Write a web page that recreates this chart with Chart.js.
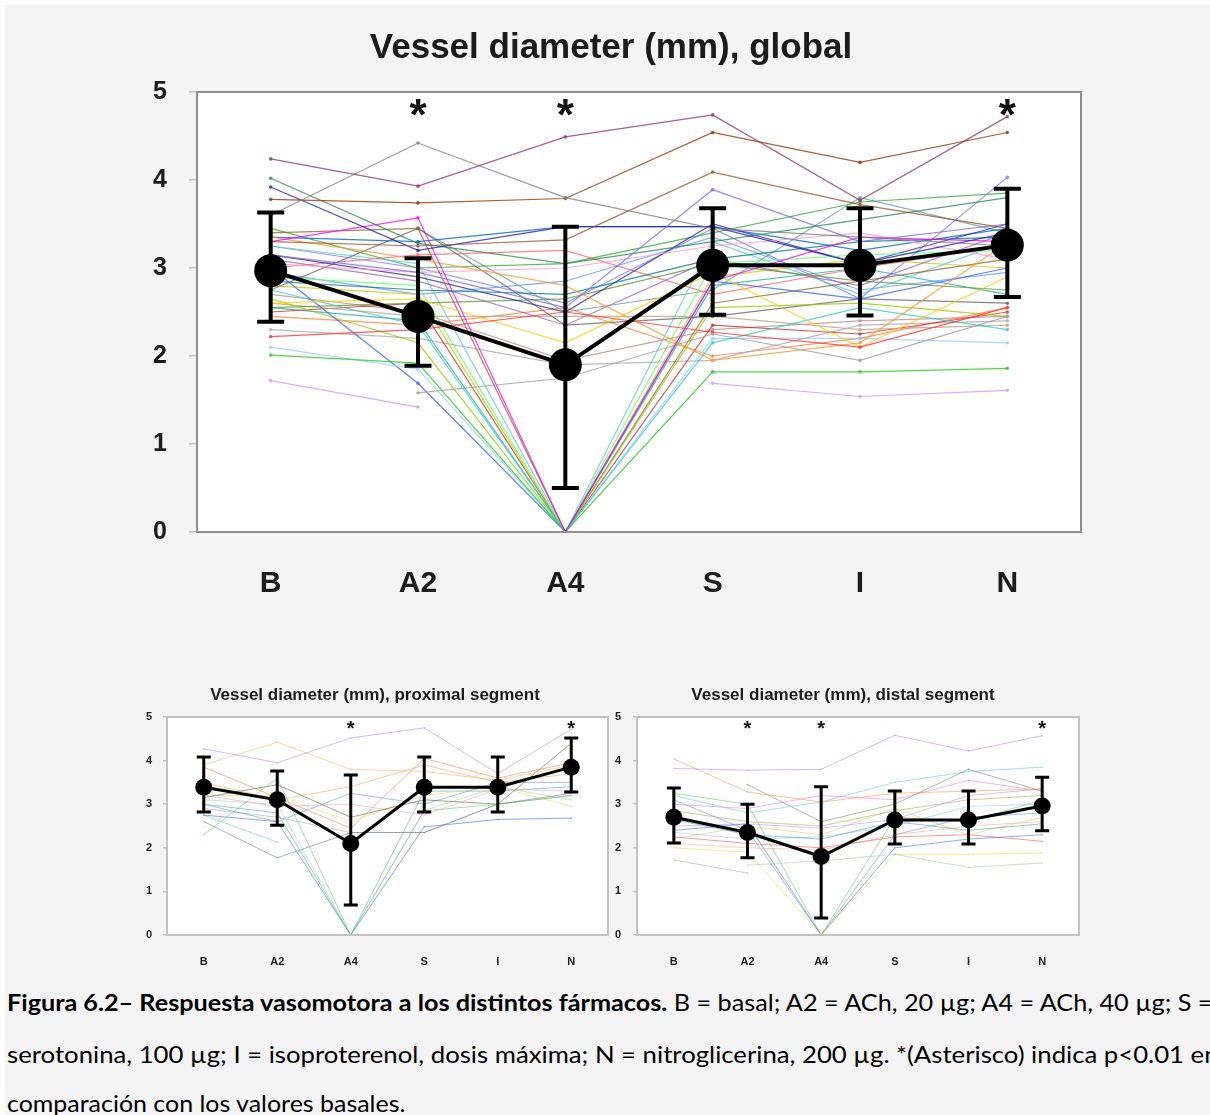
<!DOCTYPE html>
<html><head><meta charset="utf-8">
<script src="https://cdn.jsdelivr.net/npm/chart.js@4.4.0/dist/chart.umd.min.js"></script>
<style>
html,body{margin:0;padding:0;background:#fff;width:1210px;height:1115px;overflow:hidden;position:relative;}
#bg{position:absolute;left:5px;top:5px;width:1205px;height:1110px;background:#f4f4f4;}
canvas{position:absolute;}
.cap{position:absolute;left:7px;white-space:nowrap;font-family:'Lato','Open Sans',sans-serif;font-size:23px;line-height:23px;color:#000;transform-origin:0 0;}
.cap b{font-weight:700;}
</style></head>
<body>
<div id="bg"></div>
<canvas id="cMain" width="1210" height="620" style="left:0;top:0;width:1210px;height:620px"></canvas>
<canvas id="cProx" width="660" height="320" style="left:0;top:660px;width:660px;height:320px"></canvas>
<canvas id="cDist" width="1150" height="320" style="left:0;top:660px;width:1150px;height:320px"></canvas>
<div class="cap" id="cap1" style="top:991px"><b>Figura 6.2– Respuesta vasomotora a los distintos fármacos.</b> B = basal; A2 = ACh, 20 µg; A4 = ACh, 40 µg; S =</div>
<div class="cap" id="cap2" style="top:1043px">serotonina, 100 µg; I = isoproterenol, dosis máxima; N = nitroglicerina, 200 µg. *(Asterisco) indica p&lt;0.01 en</div>
<div class="cap" id="cap3" style="top:1092px">comparación con los valores basales.</div>
<script>
// ---------- DATA ----------
const categories = ['B', 'A2', 'A4', 'S', 'I', 'N'];

// Global
const globalTitle = 'Vessel diameter (mm), global';
const globalMean = [2.97, 2.45, 1.90, 3.03, 3.03, 3.26];
const globalErrLow = [2.39, 1.89, 0.50, 2.47, 2.46, 2.67];
const globalErrHigh = [3.63, 3.11, 3.47, 3.68, 3.68, 3.90];
const globalSig = ['', '*', '*', '', '', '*'];
const globalPatients = [
  [4.24, 3.93, 4.49, 4.74, 3.77, 4.72],
  [3.60, 4.42, 3.80, 3.45, 3.35, 3.25],
  [3.78, 3.74, 3.79, 4.54, 4.20, 4.54],
  [3.30, 3.25, 3.32, 4.09, 3.72, 3.45],
  [3.15, 2.95, 2.55, 3.89, 3.30, 3.50],
  [3.92, 3.20, 3.47, 3.47, 3.05, 3.40],
  [4.02, 3.28, 3.05, 3.30, 3.55, 3.80],
  [3.30, 3.57, 0.00, 2.85, 3.35, 3.30],
  [2.01, 1.92, 0.00, 1.82, 1.82, 1.86],
  [1.72, 1.42, null, 1.69, 1.54, 1.61],
  [null, 1.58, 1.75, 2.25, 1.95, 2.45],
  [2.22, 2.30, 2.50, 2.27, 2.10, 2.55],
  [3.35, 3.10, 2.80, 1.95, 2.15, 3.29],
  [2.60, 2.65, 2.15, 2.95, 2.10, 2.90],
  [2.75, 2.35, 0.00, 2.15, 2.55, 2.30],
  [2.10, 1.85, 0.00, 2.20, 2.20, 2.15],
  [3.00, 1.69, 0.00, 2.85, 2.65, 3.00],
  [2.65, 2.15, 0.00, 2.55, 2.60, 2.45],
  [3.40, 3.45, 0.00, 2.60, 2.85, 3.10],
  [2.85, 2.75, 2.70, 3.10, 3.30, 3.35],
  [2.90, 2.80, 0.00, 3.05, 3.15, 3.20],
  [3.05, 2.95, 3.00, 3.25, 3.40, 3.10],
  [3.15, 2.90, 2.50, 3.50, 3.05, 3.50],
  [2.75, 3.45, 2.35, 2.45, 2.65, 2.60],
  [2.55, 2.60, 2.65, 3.05, 2.85, 2.75],
  [2.60, 2.45, 2.45, 2.45, 2.30, 2.35],
  [3.00, 3.15, 3.20, 2.70, 3.00, 3.25],
  [3.10, 2.85, 2.35, 3.10, 2.80, 3.40],
  [3.25, 3.05, 0.00, 3.30, 2.70, 3.30],
  [2.80, 2.70, 0.00, 2.90, 3.10, 3.00],
  [2.50, 2.60, 0.00, 2.35, 2.25, 2.50],
  [2.95, 2.70, 2.85, 3.35, 2.75, 2.95],
  [2.30, 2.20, 1.90, 1.95, 2.35, 2.40],
  [3.35, 3.30, 3.47, 3.47, 3.20, 3.45],
  [3.45, 3.00, 3.05, 3.40, 3.75, 3.85],
  [2.45, 2.35, 2.55, 2.00, 2.20, 2.55],
  [null, 3.45, 2.50, 2.75, 3.80, 3.40],
  [3.25, 3.00, 2.60, 3.45, 2.65, 4.03],
  [2.70, 2.50, 1.95, 2.30, 2.40, 2.45],
  [2.55, 2.40, 0.00, 2.80, 3.00, 2.70]
];
const globalColors = ['#993366','#808080','#993300','#A0522D','#7B68EE','#1F1FBF','#2E8B57','#FF00FF',
  '#22CC22','#CC99FF','#A0A0A0','#FF3333','#FF9933','#FFCC00','#33CCCC','#99CCFF','#3366FF','#99CC00',
  '#996633','#008080','#66FF66','#FF99CC','#333399','#666666','#669933','#C0A080','#FF6666','#9966CC',
  '#66CCCC','#CCCC00','#CC3333','#6699FF','#AAAAAA','#0066CC','#33AA33','#FF8040','#5F9EA0','#7B7BFF',
  '#BC8F8F','#20B2AA'];

// Proximal segment
const proxTitle = 'Vessel diameter (mm), proximal segment';
const proxMean = [3.39, 3.10, 2.10, 3.39, 3.39, 3.85];
const proxErrLow = [2.82, 2.52, 0.69, 2.82, 2.82, 3.28];
const proxErrHigh = [4.08, 3.76, 3.67, 4.08, 4.08, 4.52];
const proxSig = ['', '', '*', '', '', '*'];
const proxPatients = [
  [4.27, 3.95, 4.52, 4.75, 3.70, 4.72],
  [3.90, 4.42, 3.80, 3.75, 3.55, 3.90],
  [3.85, 3.15, 2.45, 4.05, 3.60, 3.95],
  [2.60, 1.77, 2.35, 2.35, 3.00, 3.25],
  [2.30, 3.60, 0.00, 2.85, 3.00, 3.20],
  [2.75, 2.60, 0.00, 2.48, 2.65, 2.68],
  [2.75, 2.13, null, null, null, null],
  [3.15, 3.45, 2.70, 3.10, 3.00, 4.40],
  [3.20, 2.95, 3.00, 2.75, 3.35, 3.30],
  [3.10, 3.00, 0.00, 2.85, 3.40, 3.10],
  [3.00, 2.60, 3.25, 3.00, 3.50, 3.50],
  [3.20, 3.20, 2.60, 3.20, 3.40, 2.95],
  [3.00, 2.80, 0.00, 3.30, 3.30, 3.40],
  [2.90, 2.70, 2.35, 2.35, 3.00, 3.20],
  [3.50, 3.10, 3.40, 3.90, 3.50, 3.70]
];
const proxColors = ['#B48CF0','#FFB366','#FF7F50','#708090','#66CC66','#4169E1','#66CCCC','#556B2F',
  '#FF99CC','#99DD99','#6495ED','#E8D870','#40B0B0','#A9A9A9','#F4A460'];

// Distal segment
const distTitle = 'Vessel diameter (mm), distal segment';
const distMean = [2.70, 2.35, 1.80, 2.64, 2.64, 2.96];
const distErrLow = [2.11, 1.77, 0.39, 2.09, 2.09, 2.39];
const distErrHigh = [3.37, 3.00, 3.40, 3.30, 3.30, 3.62];
const distSig = ['', '*', '*', '', '', '*'];
const distPatients = [
  [3.82, 3.78, 3.80, 4.58, 4.22, 4.57],
  [4.04, 3.28, 3.05, 3.25, 3.30, 3.35],
  [null, 3.45, 2.60, 3.00, 3.80, 3.30],
  [1.72, 1.42, null, null, null, null],
  [null, 1.60, 1.70, 1.85, 1.55, 1.65],
  [2.00, 1.90, 0.00, 1.85, 1.85, 1.88],
  [3.25, 3.00, 0.00, 2.70, 2.60, 3.10],
  [3.20, 2.80, 3.05, 3.50, 3.75, 3.85],
  [3.00, 2.90, 3.20, 3.10, 3.55, 3.30],
  [2.40, 2.55, 0.00, 2.00, 2.20, 2.30],
  [2.25, 2.10, 2.00, 2.25, 2.30, 2.15],
  [2.10, 2.00, 1.95, 2.30, 2.50, 2.60],
  [2.65, 2.30, 2.20, 2.60, 2.40, 2.55],
  [3.10, 2.40, 0.00, 2.30, 2.70, 2.80],
  [2.35, 2.20, 2.25, 2.50, 2.95, 3.00],
  [2.85, 2.60, 2.50, 2.85, 3.10, 3.20],
  [2.50, 2.55, 2.45, 2.65, 3.20, 3.35],
  [2.20, 2.50, 2.30, 2.90, 2.30, 2.70]
];
const distColors = ['#B48CF0','#FF9944','#6B8E6B','#B0B0B0','#A8C8A8','#EEDD44','#66CC66','#66CCDD',
  '#FF77DD','#4477DD','#FF5555','#FFAA88','#44AAAA','#6699CC','#99CCEE','#AAAA55','#BB99EE','#DDCC66'];

// ---------- PLUGINS ----------
function hexA(hex, a) {
  const n = parseInt(hex.slice(1), 16);
  return 'rgba(' + ((n >> 16) & 255) + ',' + ((n >> 8) & 255) + ',' + (n & 255) + ',' + a + ')';
}
const framePlugin = {
  id: 'frame',
  beforeDraw(chart, args, o) {
    const a = chart.chartArea, ctx = chart.ctx;
    ctx.save(); ctx.fillStyle = '#fff';
    ctx.fillRect(a.left, a.top, a.right - a.left, a.bottom - a.top);
    ctx.restore();
  },
  afterDraw(chart, args, o) {
    const a = chart.chartArea, ctx = chart.ctx;
    ctx.save(); ctx.strokeStyle = o.color; ctx.lineWidth = o.width;
    ctx.strokeRect(a.left, a.top, a.right - a.left, a.bottom - a.top);
    ctx.restore();
  }
};
const errorBarPlugin = {
  id: 'errorBars',
  afterDatasetsDraw(chart, args, o) {
    const {ctx, scales: {x, y}} = chart;
    ctx.save(); ctx.strokeStyle = '#000'; ctx.lineWidth = o.lineWidth;
    o.low.forEach((lo, i) => {
      const hi = o.high[i];
      const px = x.getPixelForValue(i), yl = y.getPixelForValue(lo), yh = y.getPixelForValue(hi);
      ctx.beginPath();
      ctx.moveTo(px, yl); ctx.lineTo(px, yh);
      ctx.moveTo(px - o.cap / 2, yl); ctx.lineTo(px + o.cap / 2, yl);
      ctx.moveTo(px - o.cap / 2, yh); ctx.lineTo(px + o.cap / 2, yh);
      ctx.stroke();
    });
    ctx.restore();
  }
};
const starPlugin = {
  id: 'stars',
  afterDatasetsDraw(chart, args, o) {
    const {ctx, scales: {x, y}} = chart;
    ctx.save(); ctx.fillStyle = '#111'; ctx.font = o.font;
    ctx.textAlign = 'center'; ctx.textBaseline = 'middle';
    o.flags.forEach((f, i) => {
      if (f) ctx.fillText(f, x.getPixelForValue(i), y.getPixelForValue(o.value) + o.dy);
    });
    ctx.restore();
  }
};

// ---------- CHART BUILDER ----------
const FAM = "'Liberation Sans', Arial, sans-serif";
function build(id, s) {
  const datasets = [{
    data: s.mean, borderColor: '#000', backgroundColor: '#000', borderWidth: s.meanWidth,
    pointRadius: s.meanRadius, pointBackgroundColor: '#000', pointBorderWidth: 0, order: 0
  }];
  s.patients.forEach((p, i) => datasets.push({
    data: p, borderColor: hexA(s.colors[i], s.alpha), backgroundColor: hexA(s.colors[i], s.alpha),
    borderWidth: s.lineWidth, pointRadius: s.dot, pointBorderWidth: 0,
    pointBackgroundColor: hexA(s.colors[i], s.alpha), spanGaps: false, order: 1
  }));
  return new Chart(document.getElementById(id), {
    type: 'line',
    data: {labels: categories, datasets},
    plugins: [framePlugin, errorBarPlugin, starPlugin],
    options: {
      responsive: false, animation: false, events: [], devicePixelRatio: 1,
      layout: {padding: {left: s.padL, right: s.padR, top: 0, bottom: 0}},
      elements: {line: {tension: 0}},
      plugins: {
        legend: {display: false}, tooltip: {enabled: false},
        title: {display: true, text: s.title, color: '#1c1c1c',
          font: {family: FAM, weight: 'bold', size: s.titleSize, lineHeight: 1.2},
          padding: {top: s.titleTop, bottom: s.titleBottom}},
        frame: {color: s.frameColor, width: s.frameWidth},
        errorBars: {low: s.low, high: s.high, lineWidth: s.errWidth, cap: s.cap},
        stars: {flags: s.sig, value: 4.8, dy: s.starDy, font: s.starFont}
      },
      scales: {
        x: {type: 'category', offset: true,
          grid: {display: false, drawTicks: false}, border: {display: false},
          ticks: {color: '#1c1c1c', padding: s.xPad,
            font: {family: FAM, weight: 'bold', size: s.xFont}},
          afterFit(sc) { sc.height = s.xHeight; }},
        y: {min: 0, max: 5,
          grid: {drawOnChartArea: false, drawTicks: true, tickLength: s.tickLen, color: '#c4c4c4', lineWidth: 1.5},
          border: {display: false},
          ticks: {stepSize: 1, color: '#1c1c1c', padding: s.yPad,
            font: {family: FAM, weight: 'bold', size: s.yFont}},
          afterFit(sc) { sc.width = s.yWidth; }}
      }
    }
  });
}

build('cMain', {
  title: globalTitle, mean: globalMean, low: globalErrLow, high: globalErrHigh, sig: globalSig,
  patients: globalPatients, colors: globalColors, alpha: 0.8, lineWidth: 1.2, dot: 1.8,
  meanWidth: 4, meanRadius: 16.5, errWidth: 4, cap: 27,
  padL: 141, padR: 129, titleSize: 35, titleTop: 27, titleBottom: 23,
  frameColor: '#8f8f8f', frameWidth: 2, xPad: 34, xFont: 30, xHeight: 88,
  tickLen: 8, yPad: 22, yFont: 25, yWidth: 56, starDy: 8, starFont: "bold 44px " + FAM
});
build('cProx', {
  title: proxTitle, mean: proxMean, low: proxErrLow, high: proxErrHigh, sig: proxSig,
  patients: proxPatients, colors: proxColors, alpha: 0.6, lineWidth: 1, dot: 0.8,
  meanWidth: 3, meanRadius: 8.5, errWidth: 3, cap: 14,
  padL: 142, padR: 52, titleSize: 17, titleTop: 24.8, titleBottom: 11.8,
  frameColor: '#c2c2c2', frameWidth: 2, xPad: 20, xFont: 11, xHeight: 45,
  tickLen: 4, yPad: 11, yFont: 11, yWidth: 25, starDy: 4, starFont: "bold 20px " + FAM
});
build('cDist', {
  title: distTitle, mean: distMean, low: distErrLow, high: distErrHigh, sig: distSig,
  patients: distPatients, colors: distColors, alpha: 0.6, lineWidth: 1, dot: 0.8,
  meanWidth: 3, meanRadius: 8.5, errWidth: 3, cap: 14,
  padL: 607, padR: 71, titleSize: 17, titleTop: 24.8, titleBottom: 11.8,
  frameColor: '#c2c2c2', frameWidth: 2, xPad: 20, xFont: 11, xHeight: 45,
  tickLen: 4, yPad: 12, yFont: 11, yWidth: 30, starDy: 4, starFont: "bold 20px " + FAM
});

// fit caption lines to the reference widths
[['cap1', 1205], ['cap2', 1212], ['cap3', 398]].forEach(([id, w]) => {
  const el = document.getElementById(id);
  const nat = el.scrollWidth;
  el.style.transform = 'scaleX(' + (w / nat) + ')';
});
</script>
</body></html>
